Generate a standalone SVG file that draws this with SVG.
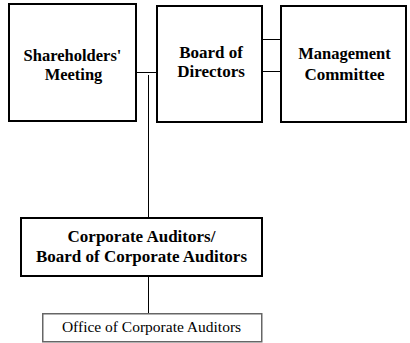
<svg xmlns="http://www.w3.org/2000/svg" width="410" height="343" viewBox="0 0 410 343">
<style>
.box{fill:#fff;stroke:#000;stroke-width:2}
.sub{fill:#fff;stroke:#666;stroke-width:1.5}
.b{font-family:"Liberation Serif","DejaVu Serif",serif;font-weight:bold;font-size:16.5px;fill:#000;text-anchor:middle}
.big{font-size:17px}
.r{font-family:"Liberation Serif","DejaVu Serif",serif;font-size:15.5px;fill:#000;text-anchor:middle}
.ln{stroke:#000;stroke-width:1;fill:none}
</style>
<rect width="410" height="343" fill="#fff"/>
<g id="connectors">
<line class="ln" x1="137" y1="72.5" x2="157" y2="72.5"/>
<line class="ln" x1="148.5" y1="75" x2="148.5" y2="218"/>
<line class="ln" x1="148.5" y1="276" x2="148.5" y2="314"/>
<line class="ln" x1="262" y1="39.5" x2="281" y2="39.5"/>
<line class="ln" x1="262" y1="71.5" x2="281" y2="71.5"/>
</g>
<g id="shareholders">
<rect class="box" x="9" y="4" width="127" height="117"/>
<text class="b" x="72.5" y="61">Shareholders'</text>
<text class="b" x="73.5" y="80">Meeting</text>
</g>
<g id="board">
<rect class="box" x="157" y="6" width="105" height="116"/>
<text class="b big" x="211" y="57.5">Board of</text>
<text class="b big" x="211" y="77">Directors</text>
</g>
<g id="management">
<rect class="box" x="281" y="6" width="125" height="116"/>
<text class="b" x="344.5" y="59">Management</text>
<text class="b big" x="344.5" y="80">Committee</text>
</g>
<g id="auditors">
<rect class="box" x="21" y="218" width="241" height="58"/>
<text class="b big" x="141.5" y="241.5">Corporate Auditors/</text>
<text class="b big" x="141.5" y="261.5">Board of Corporate Auditors</text>
</g>
<g id="office">
<rect class="sub" x="42.75" y="313.75" width="219" height="28"/>
<text class="r" x="151.5" y="331.5">Office of Corporate Auditors</text>
</g>
</svg>
